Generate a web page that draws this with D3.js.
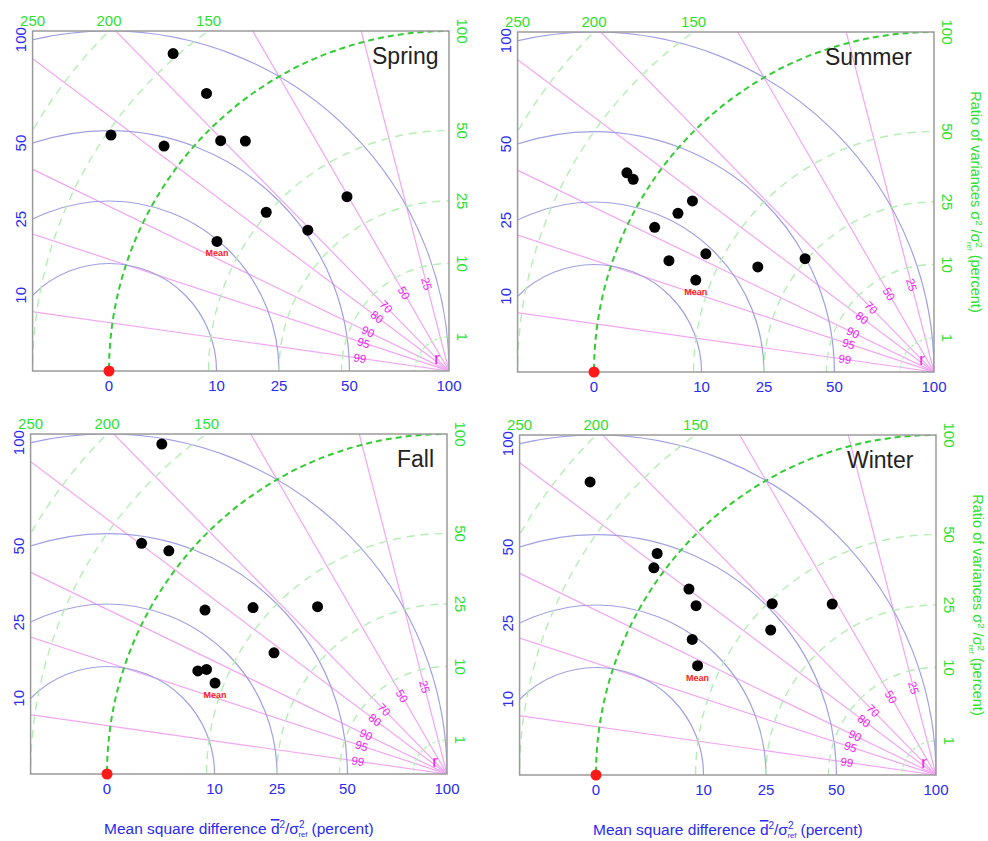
<!DOCTYPE html>
<html>
<head>
<meta charset="utf-8">
<script src="https://cdn.jsdelivr.net/npm/d3@7"></script>
<style>
  body { margin: 0; background: #fff; }
  svg { display: block; font-family: "Liberation Sans", Arial, Helvetica, sans-serif; }
</style>
</head>
<body>
<div id="chart"></div>
<script>
// variance ratio sigma^2/sigma_ref^2 (percent) and correlation r of each model
var springVar = [153, 117.5, 147, 114, 91, 81.6, 35.3, 50.7, 34.4];
var springCorr = [0.656, 0.658, 0.82, 0.785, 0.704, 0.663, 0.505, 0.755, 0.708];
var springMean = [61.1, 0.873];

var summerVar = [115.9, 110.4, 75.8, 78.5, 85.6, 57.1, 71.5, 25.5, 36.4];
var summerCorr = [0.839, 0.842, 0.816, 0.85, 0.888, 0.888, 0.922, 0.751, 0.859];
var summerMean = [56.4, 0.933];

var fallVar = [164.5, 126.7, 110, 73.9, 56.5, 38.7, 38.6, 62.9, 59.5];
var fallCorr = [0.654, 0.798, 0.78, 0.828, 0.759, 0.612, 0.819, 0.924, 0.917];
var fallMean = [53.7, 0.931];

var winterVar = [177.8, 109.7, 106, 82.7, 74.6, 48.6, 34.6, 41.8, 67.3];
var winterCorr = [0.763, 0.783, 0.806, 0.799, 0.817, 0.691, 0.519, 0.752, 0.874];
var winterMean = [59.5, 0.909];

// axis ticks
var msdTicks = [0, 10, 25, 50, 100];          // mean square difference (percent)
var varRightTicks = [1, 10, 25, 50, 100];     // variance ratio, right edge
var varTopTicks = [150, 200, 250];            // variance ratio, top edge
var varArcs = [1, 10, 25, 50, 150, 200, 250];
var corrTicks = [0.99, 0.95, 0.9, 0.8, 0.7, 0.5, 0.25];

var width = 988;
var height = 841;
var R = 340;
var W = R * Math.sqrt(1.5);

var BLUE = "#2a2af0";
var GREEN = "#2ee02e";
var MAGENTA = "#ee22ee";

var panels = [
  { name: "Spring", ox: 449, oy: 371, titleX: -77, vars: springVar, corrs: springCorr, mean: springMean },
  { name: "Summer", ox: 934, oy: 372, titleX: -109, vars: summerVar, corrs: summerCorr, mean: summerMean, rightTitle: true },
  { name: "Fall", ox: 447, oy: 774, titleX: -50, vars: fallVar, corrs: fallCorr, mean: fallMean, bottomTitle: true },
  { name: "Winter", ox: 936, oy: 775, titleX: -89, vars: winterVar, corrs: winterCorr, mean: winterMean, rightTitle: true, bottomTitle: true }
];

var rScale = d3.scaleSqrt().domain([0, 100]).range([0, R]);

var svg = d3
  .select("#chart")
  .append("svg")
  .attr("width", width)
  .attr("height", height);

svg
  .append("defs")
  .append("clipPath")
  .attr("id", "box-clip")
  .append("rect")
  .attr("x", -W)
  .attr("y", -R)
  .attr("width", W)
  .attr("height", R);

// position of a model from its variance ratio and correlation
var polar = function(v, r) {
  var rad = rScale(v);
  var a = Math.acos(r);
  return [-rad * Math.cos(a), -rad * Math.sin(a)];
};

panels.forEach(function(p) {
  var g = svg.append("g").attr("transform", "translate(" + p.ox + "," + p.oy + ")");
  var inner = g.append("g").attr("clip-path", "url(#box-clip)");

  // correlation rays
  inner
    .selectAll("line.corr")
    .data(corrTicks)
    .enter()
    .append("line")
    .attr("x1", 0)
    .attr("y1", 0)
    .attr("x2", function(d) { return -2 * R * d; })
    .attr("y2", function(d) { return -2 * R * Math.sqrt(1 - d * d); })
    .attr("stroke", "#f2a6f2")
    .attr("stroke-width", 1.2);

  // mean square difference circles around the reference
  inner
    .selectAll("circle.msd")
    .data(msdTicks.slice(1))
    .enter()
    .append("circle")
    .attr("cx", -R)
    .attr("cy", 0)
    .attr("r", function(d) { return rScale(d); })
    .attr("fill", "none")
    .attr("stroke", "#a0a0e4")
    .attr("stroke-width", 1.2);

  // variance ratio circles around the origin
  inner
    .selectAll("circle.var")
    .data(varArcs)
    .enter()
    .append("circle")
    .attr("cx", 0)
    .attr("cy", 0)
    .attr("r", function(d) { return rScale(d); })
    .attr("fill", "none")
    .attr("stroke", "#b4eeb4")
    .attr("stroke-width", 1.4)
    .attr("stroke-dasharray", function(d) { return d === 1 ? "3,2" : "8,6"; });

  inner
    .append("circle")
    .attr("cx", 0)
    .attr("cy", 0)
    .attr("r", rScale(100))
    .attr("fill", "none")
    .attr("stroke", "#33cc33")
    .attr("stroke-width", 2)
    .attr("stroke-dasharray", "6,4");

  // frame
  g.append("rect")
    .attr("x", -W)
    .attr("y", -R)
    .attr("width", W)
    .attr("height", R)
    .attr("fill", "none")
    .attr("stroke", "#9a9a9a")
    .attr("stroke-width", 1.5);

  // correlation labels
  g.selectAll("text.corr")
    .data(corrTicks)
    .enter()
    .append("text")
    .attr("transform", function(d) {
      var a = Math.acos(d);
      return "translate(" + (-90 * Math.cos(a)) + "," + (-90 * Math.sin(a)) + ") rotate(" + (a * 180 / Math.PI) + ")";
    })
    .attr("text-anchor", "middle")
    .attr("dominant-baseline", "central")
    .attr("font-size", 11.5)
    .attr("fill", MAGENTA)
    .text(function(d) { return Math.round(d * 100); });

  g.append("text")
    .attr("x", -12)
    .attr("y", -7)
    .attr("text-anchor", "middle")
    .attr("font-size", 17)
    .attr("fill", MAGENTA)
    .text("r");

  // bottom ticks
  g.selectAll("text.msd-bottom")
    .data(msdTicks)
    .enter()
    .append("text")
    .attr("x", function(d) { return -R + rScale(d); })
    .attr("y", 20)
    .attr("text-anchor", "middle")
    .attr("font-size", 15)
    .attr("fill", BLUE)
    .text(function(d) { return d; });

  // left ticks where arcs meet the left edge
  g.selectAll("text.msd-left")
    .data(msdTicks.slice(1))
    .enter()
    .append("text")
    .attr("transform", function(d) {
      var rr = rScale(d);
      var y = -Math.sqrt(rr * rr - (W - R) * (W - R));
      return "translate(" + (-W - 12) + "," + y + ") rotate(-90)";
    })
    .attr("text-anchor", "middle")
    .attr("dominant-baseline", "central")
    .attr("font-size", 15)
    .attr("fill", BLUE)
    .text(function(d) { return d; });

  // right ticks
  g.selectAll("text.var-right")
    .data(varRightTicks)
    .enter()
    .append("text")
    .attr("transform", function(d) {
      return "translate(13," + -rScale(d) + ") rotate(90)";
    })
    .attr("text-anchor", "middle")
    .attr("dominant-baseline", "central")
    .attr("font-size", 15)
    .attr("fill", GREEN)
    .text(function(d) { return d; });

  // top ticks
  g.selectAll("text.var-top")
    .data(varTopTicks)
    .enter()
    .append("text")
    .attr("x", function(d) {
      var rr = rScale(d);
      return -Math.sqrt(rr * rr - R * R);
    })
    .attr("y", -R - 5)
    .attr("text-anchor", "middle")
    .attr("font-size", 15)
    .attr("fill", GREEN)
    .text(function(d) { return d; });

  // title
  g.append("text")
    .attr("x", p.titleX)
    .attr("y", -307)
    .attr("font-size", 23)
    .attr("fill", "#222")
    .text(p.name);

  // model points
  var pts = p.vars.map(function(v, i) { return polar(v, p.corrs[i]); });
  g.selectAll("circle.pt")
    .data(pts)
    .enter()
    .append("circle")
    .attr("cx", function(d) { return d[0]; })
    .attr("cy", function(d) { return d[1]; })
    .attr("r", 5.5)
    .attr("fill", "#000");

  var m = polar(p.mean[0], p.mean[1]);
  g.append("circle")
    .attr("cx", m[0])
    .attr("cy", m[1])
    .attr("r", 5.5)
    .attr("fill", "#000");
  g.append("text")
    .attr("x", m[0])
    .attr("y", m[1] + 15)
    .attr("text-anchor", "middle")
    .attr("font-size", 9)
    .attr("font-weight", "bold")
    .attr("fill", "#ff2020")
    .text("Mean");

  // reference point
  g.append("circle")
    .attr("cx", -R)
    .attr("cy", 0)
    .attr("r", 5.5)
    .attr("fill", "#ff1a1a");

  if (p.rightTitle) {
    var rt = g.append("text")
      .attr("transform", "translate(37," + (-R / 2) + ") rotate(90)")
      .attr("text-anchor", "middle")
      .attr("font-size", 14.5)
      .attr("fill", GREEN);
    rt.append("tspan").text("Ratio of variances \u03c3");
    rt.append("tspan").attr("dy", -5).attr("font-size", 9.5).text("2");
    rt.append("tspan").attr("dy", 5).text(" /\u03c3");
    rt.append("tspan").attr("dy", -5).attr("font-size", 9.5).text("2");
    rt.append("tspan").attr("dx", -6).attr("dy", 9).attr("font-size", 7.5).text("ref");
    rt.append("tspan").attr("dy", -4).text(" (percent)");
  }

  if (p.bottomTitle) {
    var bt = g.append("text")
      .attr("x", -W / 2)
      .attr("y", 60)
      .attr("text-anchor", "middle")
      .attr("font-size", 15.5)
      .attr("fill", BLUE);
    bt.append("tspan").text("Mean square difference ");
    bt.append("tspan").style("text-decoration", "overline").text("d");
    bt.append("tspan").attr("dy", -6).attr("font-size", 10).text("2");
    bt.append("tspan").attr("dy", 6).text("/\u03c3");
    bt.append("tspan").attr("dy", -6).attr("font-size", 10).text("2");
    bt.append("tspan").attr("dx", -6).attr("dy", 9).attr("font-size", 7.5).text("ref");
    bt.append("tspan").attr("dy", -3).text(" (percent)");
  }
});
</script>
</body>
</html>
